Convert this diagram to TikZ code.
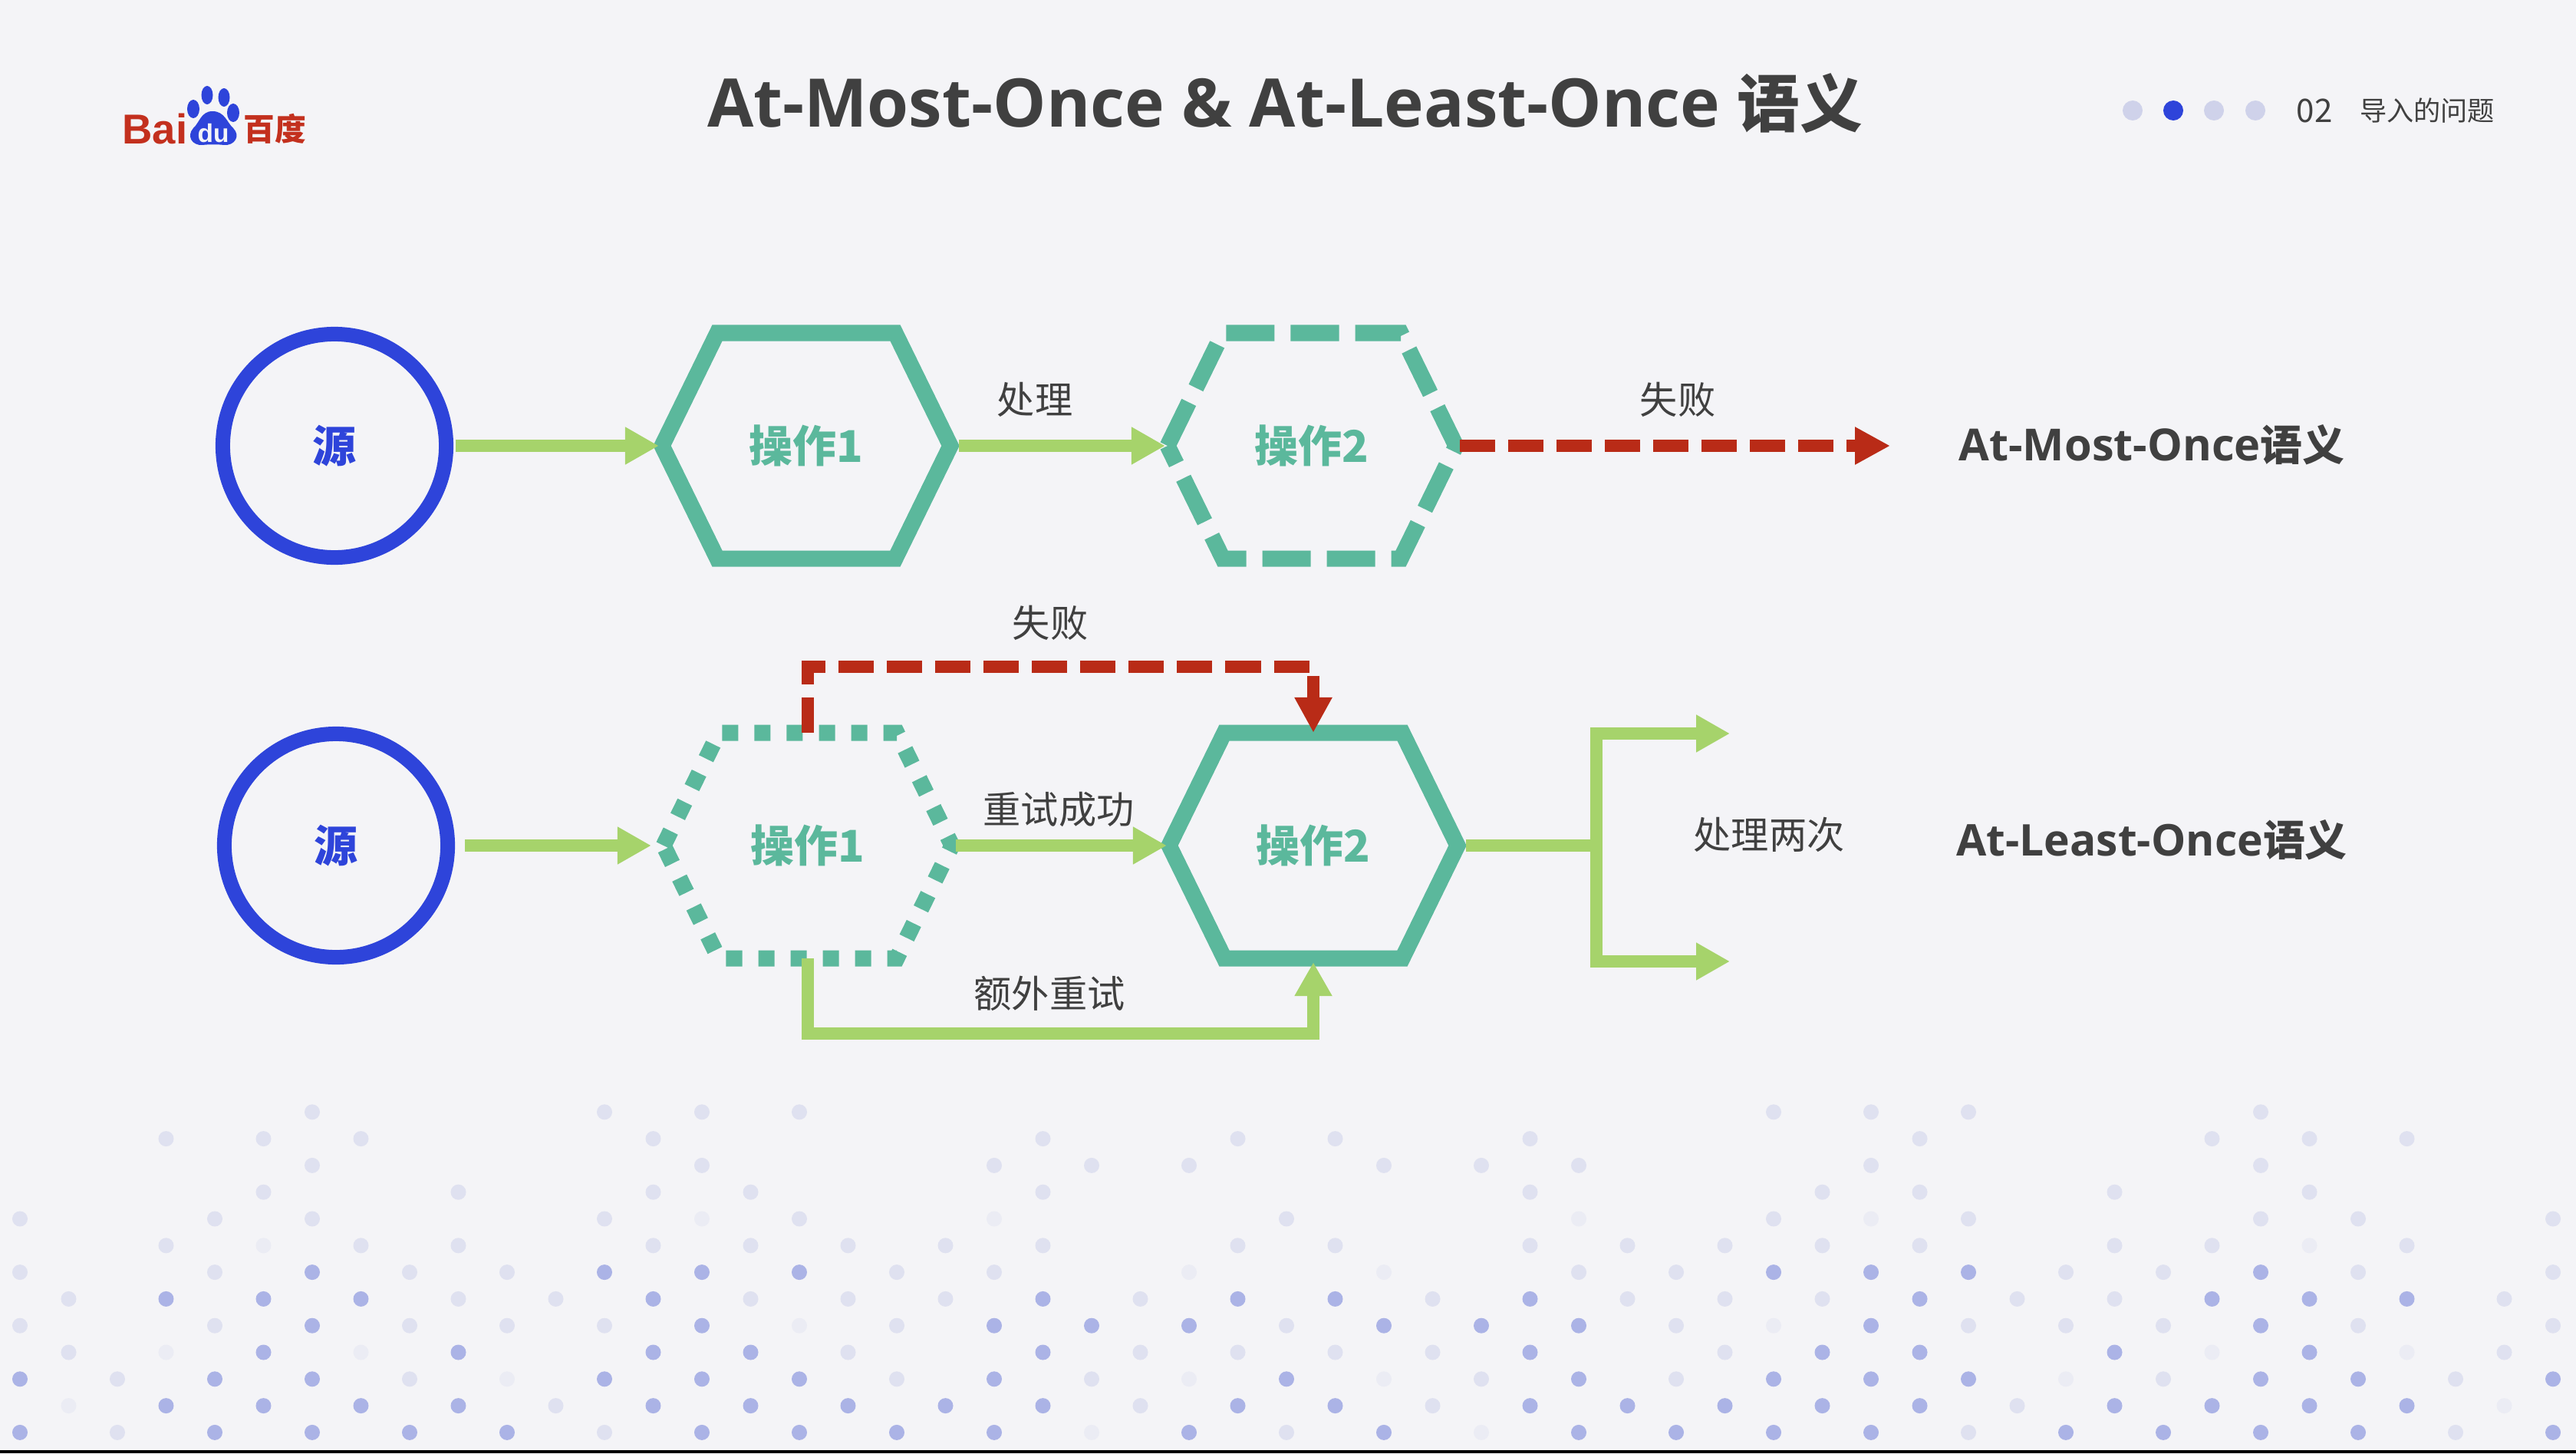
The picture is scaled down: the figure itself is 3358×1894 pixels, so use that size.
\documentclass[tikz,border=0pt]{standalone}
\usepackage{fontspec}
\setmainfont{Noto Sans CJK SC}
\newfontfamily\logofont{Liberation Sans}
\newfontfamily\latinf{Open Sans}[BoldFont={Open Sans Bold}]
\usetikzlibrary{arrows.meta}
\definecolor{bgc}{HTML}{F4F4F7}
\definecolor{srcblue}{HTML}{2E44DA}
\definecolor{teal}{HTML}{5BB89C}
\definecolor{lgreen}{HTML}{A6D36B}
\definecolor{redc}{HTML}{B92B17}
\definecolor{txt}{HTML}{404040}
\definecolor{dotd}{HTML}{ABB3E6}
\definecolor{dotl}{HTML}{DFE1F0}
\definecolor{dotf}{HTML}{EBECF4}
\definecolor{navl}{HTML}{CFD2EA}
\definecolor{logored}{HTML}{C3301E}
\newcommand{\fs}[1]{\fontsize{#1pt}{#1pt}\selectfont}
\newcommand{\hexa}[2]{\draw[#2] ([shift={(-188,0)}]#1.center) -- ([shift={(-116,-147)}]#1.center) -- ([shift={(116,-147)}]#1.center) -- ([shift={(188,0)}]#1.center) -- ([shift={(116,147)}]#1.center) -- ([shift={(-116,147)}]#1.center) -- cycle;}
\newcommand{\dotrow}[3]{\foreach \i in {#3} {\fill[#1] (26+63.5*\i,1449.3+34.8*#2) circle[radius=.1cm];}}
\tikzset{
  source/.style={circle,draw=srcblue,line width=.19cm,minimum size=2.91cm,inner sep=0pt,text=srcblue,font=\fs{16.2}\bfseries},
  opnode/.style={minimum width=3.98cm,minimum height=3.14cm,inner sep=0pt,outer sep=0pt,text=teal,font=\fs{16.2}\bfseries},
  hexsolid/.style={draw=teal,line width=.21cm,line join=miter},
  hexdash/.style={hexsolid,dash pattern=on .63cm off .21cm},
  hexdot/.style={hexsolid,dash pattern=on .21cm off .21cm},
  okarrow/.style={draw=lgreen,line width=.165cm,-{Triangle[length=.44cm,width=.46cm]}},
  failarrow/.style={draw=redc,line width=.165cm,dash pattern=on .46cm off .17cm,-{Triangle[length=.46cm,width=.46cm]}},
  lab/.style={text=txt,font=\fs{14},inner sep=0pt},
  result/.style={text=txt,font=\fs{15.6}\bfseries,inner sep=0pt},
  navdot/.style={circle,minimum size=.26cm,inner sep=0pt,fill=navl}
}
\begin{document}
\begin{tikzpicture}[x=.01cm,y=-.01cm]
\useasboundingbox (0,0) rectangle (3358,1894);
\fill[bgc] (0,0) rectangle (3358,1894);
\fill[black] (0,1890) rectangle (3358,1894);
% dots: dark
\dotrow{dotd}{6}{6,12,14,16,36,38,40,46}
\dotrow{dotd}{7}{3,5,7,13,21,25,27,31,39,45,47,49}
\dotrow{dotd}{8}{6,14,20,22,24,28,30,32,38,46}
\dotrow{dotd}{9}{5,9,13,15,21,31,37,39,43,47}
\dotrow{dotd}{10}{0,4,6,12,14,16,20,26,32,36,38,40,46,48,52}
\dotrow{dotd}{11}{3,5,7,9,13,15,17,19,21,25,27,31,33,35,37,39,43,45,47,49}
\dotrow{dotd}{12}{0,4,6,8,10,14,16,18,20,24,28,32,34,36,38,42,44,46,48,52}
% dots: light
\dotrow{dotl}{0}{6,12,14,16,36,38,40,46}
\dotrow{dotl}{1}{3,5,7,13,21,25,27,31,39,45,47,49}
\dotrow{dotl}{2}{6,14,20,22,24,28,30,32,38,46}
\dotrow{dotl}{3}{5,9,13,15,21,31,37,39,43,47}
\dotrow{dotl}{4}{0,4,6,12,16,26,36,40,46,48,52}
\dotrow{dotl}{5}{3,7,9,13,15,17,19,21,25,27,31,33,35,37,39,43,45,49}
\dotrow{dotl}{6}{0,4,8,10,18,20,32,34,42,44,48,52}
\dotrow{dotl}{7}{1,9,11,15,17,19,23,29,33,35,37,41,43,51}
\dotrow{dotl}{8}{0,4,8,10,12,18,26,34,40,42,44,48,52}
\dotrow{dotl}{9}{1,17,23,25,27,29,35,51}
\dotrow{dotl}{10}{2,8,18,22,30,34,44,50}
\dotrow{dotl}{11}{11,23,29,41}
\dotrow{dotl}{12}{2,12,26,40,50}
% dots: faint
\dotrow{dotf}{4}{14,20,32,38}
\dotrow{dotf}{5}{5,47}
\dotrow{dotf}{6}{24,28}
\dotrow{dotf}{8}{16,36}
\dotrow{dotf}{9}{3,7,45,49}
\dotrow{dotf}{10}{10,24,28,42}
\dotrow{dotf}{11}{1,51}
\dotrow{dotf}{12}{22,30}
% logo
\node[inner sep=0pt,text=logored,font=\fs{15.5}\logofont\bfseries] (logobai) at (202,168) {Bai};
\node[inner sep=0pt,text=logored,font=\fs{11.6}\bfseries] (logocn) at (358,168) {百度};
\fill[srcblue] (277,145) .. controls (293,145) and (296,160) .. (304,167) .. controls (314,177) and (306,190) .. (292,189) .. controls (284,188) and (272,188) .. (264,189) .. controls (250,190) and (243,177) .. (252,167) .. controls (260,160) and (262,145) .. (277,145) -- cycle;
\fill[srcblue] (270,124) ellipse[x radius=7.5,y radius=12];
\fill[srcblue] (292,127) ellipse[x radius=7.5,y radius=12];
\fill[srcblue] (252,142) ellipse[x radius=8,y radius=12];
\fill[srcblue] (304,147) ellipse[x radius=8,y radius=12];
\node[inner sep=0pt,text=bgc,font=\fs{9.5}\logofont\bfseries] (logodu) at (278,174) {du};
% header
\node[inner sep=0pt,text=txt,font=\fs{23.2}\bfseries] (title) at (1675,135) {{\fs{24.85}\latinf At-Most-Once \& At-Least-Once }语义};
\node[navdot] (nav1) at (2780,144) {};
\node[navdot,fill=srcblue] (nav2) at (2833,144) {};
\node[navdot] (nav3) at (2886,144) {};
\node[navdot] (nav4) at (2940,144) {};
\node[inner sep=0pt,text=txt,font=\fs{12}] (navnum) at (3017,144) {02};
\node[inner sep=0pt,text=txt,font=\fs{10}] (navtxt) at (3164,144) {导入的问题};
% row 1
\node[source] (c1) at (436,581) {源};
\node[opnode] (a1) at (1051,581) {操作1};
\node[opnode] (a2) at (1710,581) {操作2};
\hexa{a1}{hexsolid}
\hexa{a2}{hexdash}
\coordinate (e1) at (2464,581);
\draw[okarrow] ([xshift=.03cm]c1.east) -- ([xshift=.07cm]a1.west);
\draw[okarrow] (a1.east) -- ([xshift=.08cm]a2.west);
\draw[failarrow] ([xshift=-.06cm]a2.east) -- (e1);
\node[lab] (l1) at (1349,521) {处理};
\node[lab] (l2) at (2187,521) {失败};
\node[result] (r1) at (2805,580) {{\fs{16.4}\latinf At-Most-Once}语义};
% row 2
\node[source] (c2) at (438,1102) {源};
\node[opnode] (b1) at (1053,1102) {操作1};
\node[opnode] (b2) at (1712,1102) {操作2};
\hexa{b1}{hexdot}
\hexa{b2}{hexsolid}
\coordinate (fu) at (1053,869);
\coordinate (fv) at (1712,869);
\coordinate (gu) at (1053,1347);
\coordinate (gv) at (1712,1347);
\coordinate (jn) at (2081,1102);
\coordinate (t1) at (2255,956);
\coordinate (t2) at (2255,1253);
\draw[okarrow] ([xshift=.13cm]c2.east) -- ([xshift=-.05cm]b1.west);
\draw[okarrow] ([xshift=-.06cm]b1.east) -- ([xshift=.08cm]b2.west);
\draw[failarrow] ([yshift=-.1cm]b1.north) -- (fu) -- (fv) -- ([yshift=-.1cm]b2.north);
\draw[okarrow,line join=miter] ([yshift=.1cm]b1.south) -- (gu) -- (gv) -- ([yshift=.05cm]b2.south);
\draw[draw=lgreen,line width=.165cm] (b2.east) -- (jn);
\draw[okarrow] (jn) |- (t1);
\draw[okarrow] (jn) |- (t2);
\node[lab] (l3) at (1369,812) {失败};
\node[lab] (l4) at (1380,1055) {重试成功};
\node[lab] (l5) at (1368,1295) {额外重试};
\node[lab] (l6) at (2306,1088) {处理两次};
\node[result] (r2) at (2805,1095) {{\fs{16.2}\latinf At-Least-Once}语义};
\end{tikzpicture}
\end{document}
